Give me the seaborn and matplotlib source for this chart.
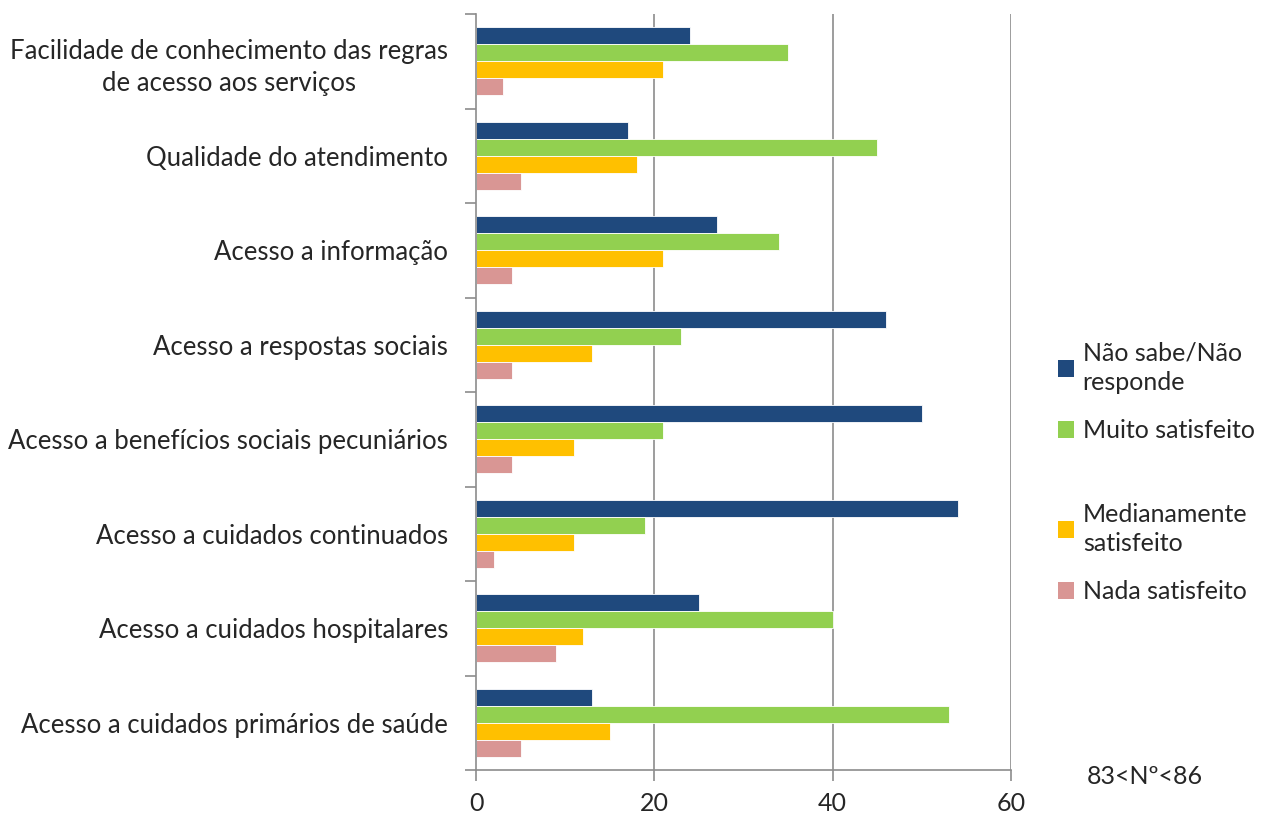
import numpy as np
import pandas as pd
import matplotlib
matplotlib.use("Agg")
import matplotlib.pyplot as plt
import seaborn as sns
from matplotlib.patches import Patch
from matplotlib.ticker import FixedLocator

categories = [
    "Facilidade de conhecimento das regras\nde acesso aos serviços",
    "Qualidade do atendimento",
    "Acesso a informação",
    "Acesso a respostas sociais",
    "Acesso a benefícios sociais pecuniários",
    "Acesso a cuidados continuados",
    "Acesso a cuidados hospitalares",
    "Acesso a cuidados primários de saúde",
]
series_names = ["Não sabe/Não responde", "Muito satisfeito",
                "Medianamente satisfeito", "Nada satisfeito"]
legend_labels = ["Não sabe/Não\nresponde", "Muito satisfeito",
                 "Medianamente\nsatisfeito", "Nada satisfeito"]
nao_sabe = [24, 17, 27, 46, 50, 54, 25, 13]
muito = [35, 45, 34, 23, 21, 19, 40, 53]
mediana = [21, 18, 21, 13, 11, 11, 12, 15]
nada = [3, 5, 4, 4, 4, 2, 9, 5]
x_ticks = [0, 20, 40, 60]
note = "83<Nº<86"

colors = ["#1F497D", "#92D050", "#FFC000", "#D99694"]

rows = []
for s, vals in zip(series_names, [nao_sabe, muito, mediana, nada]):
    for c, v in zip(categories, vals):
        rows.append({"cat": c, "serie": s, "val": v})
df = pd.DataFrame(rows)

sns.set_theme(style="white")
plt.rcParams['font.family'] = ['Lato', 'DejaVu Sans']

fig = plt.figure(figsize=(12.63, 8.19), dpi=100)
ax = fig.add_axes([476/1263, 1-770/819, (1011-476)/1263, (770-14)/819])

sns.barplot(data=df, y="cat", x="val", hue="serie", order=categories,
            hue_order=series_names, palette=colors, orient="h",
            width=0.72, ax=ax, legend=False, edgecolor="white", linewidth=0.6,
            saturation=1)

grid_c = "#8C8C8C"
ax.set_xlim(0, 60)
ax.set_ylim(len(categories) - 0.5, -0.5)
ax.set_xticks(x_ticks)
ax.set_xticklabels([str(t) for t in x_ticks], fontsize=18)
ax.set_xlabel("")
ax.set_ylabel("")
for t in x_ticks[1:]:
    ax.axvline(t, color=grid_c, lw=1.2, zorder=0)
ax.set_axisbelow(True)

for side in ["top", "right"]:
    ax.spines[side].set_visible(False)
for side in ["left", "bottom"]:
    ax.spines[side].set_color(grid_c)
    ax.spines[side].set_linewidth(1.2)

ax.tick_params(axis="x", which="major", direction="out", length=8, width=1.2,
               color=grid_c, pad=8, bottom=True, labelsize=18)
ax.tick_params(axis="y", which="major", length=0, pad=20, labelsize=18.5)
ax.yaxis.set_minor_locator(FixedLocator(np.arange(-0.5, len(categories), 1.0)))
ax.tick_params(axis="y", which="minor", direction="out", length=8, width=1.2,
               color=grid_c, left=True)
for lbl in ax.get_yticklabels():
    lbl.set_multialignment("center")
    lbl.set_linespacing(1.35)

handles = [Patch(facecolor=c, edgecolor="none") for c in colors]
leg_kw = dict(loc="center left", frameon=False, fontsize=18,
              handlelength=0.64, handleheight=0.64, handletextpad=0.35,
              labelspacing=1.0, borderpad=0.0, borderaxespad=0.0)
leg1 = fig.legend(handles[:2], legend_labels[:2],
                  bbox_to_anchor=(1058/1263, 1-392/819), **leg_kw)
leg2 = fig.legend(handles[2:], legend_labels[2:],
                  bbox_to_anchor=(1058/1263, 1-553/819), **leg_kw)
for leg in (leg1, leg2):
    for t in leg.get_texts():
        t.set_linespacing(1.35)

fig.text(1145/1263, 1-776/819, note, ha="center", va="center", fontsize=18)

fig.savefig("out.png", dpi=100)
